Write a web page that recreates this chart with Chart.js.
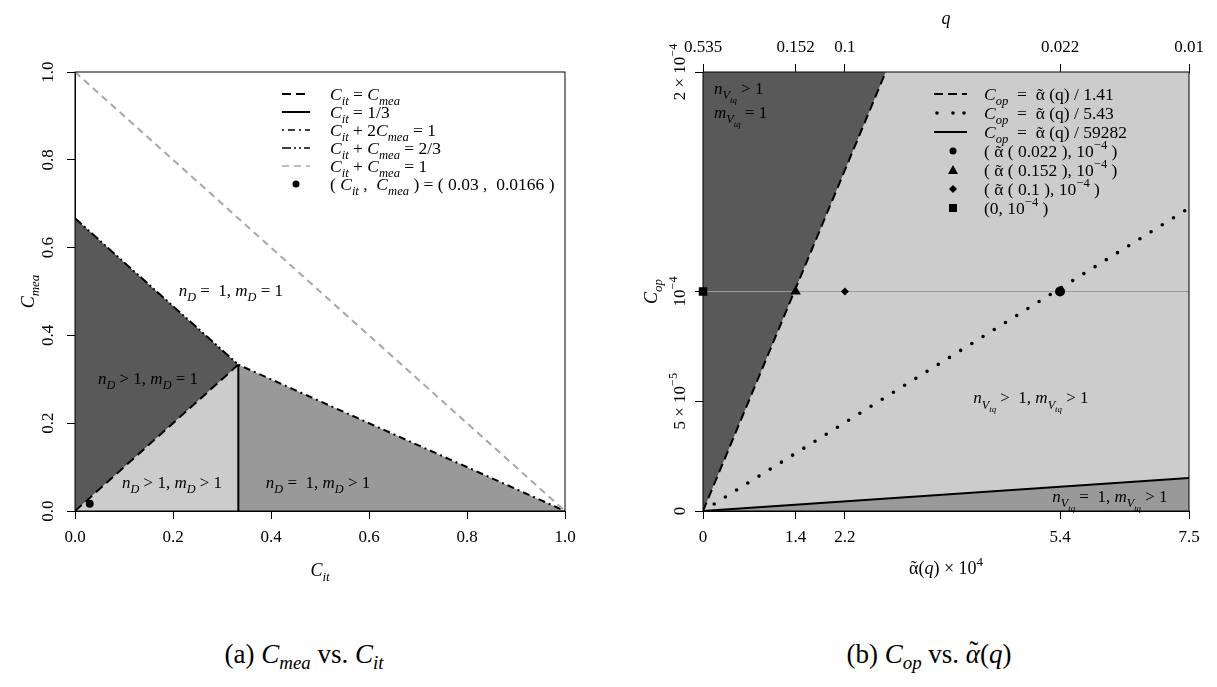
<!DOCTYPE html>
<html>
<head>
<meta charset="utf-8">
<script src="https://cdn.jsdelivr.net/npm/chart.js@4.4.0/dist/chart.umd.min.js"></script>
<style>
    body { margin: 0; background: #fff; width: 1217px; height: 687px; position: relative; overflow: hidden; }
    canvas { position: absolute; top: 0; }
    #chartA { left: 0; }
    #chartB { left: 610px; }
    .cap { position: absolute; top: 639px; font-family: 'Liberation Serif', serif; font-size: 27px;
           transform: translateX(-50%); white-space: nowrap; color: #000; }
    .cap sub { font-size: 70%; vertical-align: -0.3em; }
    .acc { position: relative; display: inline-block; }
    .acc span { position: absolute; left: 0.05em; right: 0; text-align: center; top: -0.12em; font-style: normal; }
</style>
</head>
<body>
<canvas id="chartA" width="610" height="600"></canvas>
<canvas id="chartB" width="607" height="600"></canvas>
<div class="cap" style="left:304px">(a) <i>C</i><sub><i>mea</i></sub> vs. <i>C</i><sub><i>it</i></sub></div>
<div class="cap" style="left:929px">(b) <i>C</i><sub><i>op</i></sub> vs. <span class="acc"><i>&alpha;</i><span>&#732;</span></span>(<i>q</i>)</div>

<script>
    var SERIF = "'Liberation Serif', 'Times New Roman', serif";

    // ---- (a) C_mea vs C_it ----
    var ticksA = [0, 0.2, 0.4, 0.6, 0.8, 1.0];
    var lineEqual = [{x: 0, y: 0}, {x: 1/3, y: 1/3}];          // C_it = C_mea
    var lineThird = [{x: 1/3, y: 0}, {x: 1/3, y: 1/3}];        // C_it = 1/3
    var lineTwoMea = [{x: 1/3, y: 1/3}, {x: 1, y: 0}];         // C_it + 2 C_mea = 1
    var lineTwoThirds = [{x: 0, y: 2/3}, {x: 1/3, y: 1/3}];    // C_it + C_mea = 2/3
    var lineOne = [{x: 0, y: 1}, {x: 1, y: 0}];                // C_it + C_mea = 1
    var pointA = [{x: 0.03, y: 0.0166}];
    var legendA = [
        "C_{it} = C_{mea}",
        "C_{it} = 1/3",
        "C_{it} + 2C_{mea} = 1",
        "C_{it} + C_{mea} = 2/3",
        "C_{it} + C_{mea} = 1",
        "( C_{it} ,  C_{mea} ) = ( 0.03 ,  0.0166 )"
    ];

    // ---- (b) C_op vs alpha(q) ----
    var alphaTicks = [0, 1.43, 2.19, 5.51, 7.5];
    var alphaLabels = ['0', '1.4', '2.2', '5.4', '7.5'];
    var qLabels = ['0.535', '0.152', '0.1', '0.022', '0.01'];
    var copTicks = [0, 0.5e-4, 1e-4, 2e-4];
    var copLabels = ['0', '5 \u00d7 10^{\u22125}', '10^{\u22124}', '2 \u00d7 10^{\u22124}'];
    var lineDiv141 = [{x: 0, y: 0}, {x: 2.82, y: 2e-4}];
    var lineDiv543 = [{x: 0, y: 0}, {x: 7.5, y: 1.38e-4}];
    var lineDiv59282 = [{x: 0, y: 0}, {x: 7.5, y: 0.15e-4}];
    var refLine = [{x: 0, y: 1e-4}, {x: 7.5, y: 1e-4}];
    var ptCircle = [{x: 5.51, y: 1e-4}];
    var ptTriangle = [{x: 1.43, y: 1e-4}];
    var ptDiamond = [{x: 2.19, y: 1e-4}];
    var ptSquare = [{x: 0, y: 1e-4}];
    var legendB = [
        "C_{op}  =  \u03b1\u0303 ('q') / 1.41",
        "C_{op}  =  \u03b1\u0303 ('q') / 5.43",
        "C_{op}  =  \u03b1\u0303 ('q') / 59282",
        "( \u03b1\u0303 ( 0.022 ), 10^{\u22124} )",
        "( \u03b1\u0303 ( 0.152 ), 10^{\u22124} )",
        "( \u03b1\u0303 ( 0.1 ), 10^{\u22124} )",
        "(0, 10^{\u22124} )"
    ];

    var DASH = [9, 5];
    var DOTDASH = [2, 4, 7, 4];
    var TWODASH = [9, 3, 2, 3, 2, 3];
    var DARK = '#595959', MID = '#999999', LIGHT = '#cccccc';

    Chart.defaults.font.family = SERIF;
    Chart.defaults.color = '#000';

    // little plotmath: _{..} sub, ^{..} sup, '..' upright, latin letters italic, U+0303 = tilde accent
    function richParts(s, size) {
        var parts = [], stack = [], upright = false;
        for (var i = 0; i < s.length; i++) {
            var c = s[i];
            if ((c == '_' || c == '^') && s[i + 1] == '{') { stack.push(c); i++; continue; }
            if (c == '}' && stack.length) { stack.pop(); continue; }
            if (c == "'") { upright = !upright; continue; }
            var sz = size, dy = 0;
            for (var k = 0; k < stack.length; k++) {
                dy += (stack[k] == '_' ? 0.3 : -0.45) * sz;
                sz *= 0.72;
            }
            var last = parts[parts.length - 1];
            if (c == '\u0303') {
                if (last.t.length > 1) {
                    var ch = last.t.slice(-1);
                    last.t = last.t.slice(0, -1);
                    parts.push({t: ch, sz: last.sz, dy: last.dy, it: last.it, solo: true});
                } else last.solo = true;
                parts.push({t: '\u02dc', sz: sz, dy: dy, it: false, accent: true});
                continue;
            }
            var it = !upright && /[A-Za-z]/.test(c);
            if (last && !last.solo && !last.accent && last.sz == sz && last.dy == dy && last.it == it) last.t += c;
            else parts.push({t: c, sz: sz, dy: dy, it: it});
        }
        return parts;
    }

    function drawRich(ctx, s, x, y, size, align, rot) {
        var parts = richParts(s, size), w = 0;
        parts.forEach(function (p) {
            ctx.font = (p.it ? 'italic ' : '') + p.sz + 'px ' + SERIF;
            p.w = p.accent ? 0 : ctx.measureText(p.t).width;
            w += p.w;
        });
        ctx.save();
        ctx.translate(x, y);
        if (rot) ctx.rotate(rot);
        ctx.fillStyle = '#000';
        ctx.textBaseline = 'alphabetic';
        var cx = align == 'center' ? -w / 2 : (align == 'right' ? -w : 0);
        var prev = null, prevX = 0;
        parts.forEach(function (p) {
            ctx.font = (p.it ? 'italic ' : '') + p.sz + 'px ' + SERIF;
            if (p.accent && prev) {
                ctx.textAlign = 'center';
                ctx.fillText(p.t, prevX + prev.w / 2, p.dy);
                return;
            }
            ctx.textAlign = 'left';
            ctx.fillText(p.t, cx, p.dy);
            prev = p; prevX = cx;
            cx += p.w;
        });
        ctx.restore();
    }

    function seg(ctx, x1, y1, x2, y2, dash, width, color) {
        ctx.save();
        ctx.beginPath();
        ctx.setLineDash(dash);
        ctx.lineWidth = width;
        ctx.strokeStyle = color;
        ctx.moveTo(x1, y1);
        ctx.lineTo(x2, y2);
        ctx.stroke();
        ctx.restore();
    }

    function fixedTicks(list) {
        return function (s) { s.ticks = list.map(function (v) { return {value: v}; }); };
    }

    function axis(min, max, list, extra) {
        var a = {
            type: 'linear', min: min, max: max,
            afterBuildTicks: fixedTicks(list),
            ticks: {autoSkip: false, maxRotation: 0, color: '#000', font: {size: 17}, padding: 7},
            grid: {drawOnChartArea: false, color: '#000', tickLength: 8, lineWidth: 1},
            border: {display: true, color: '#000', width: 1}
        };
        for (var k in extra) a[k] = extra[k];
        return a;
    }

    function polygon(pts, color) {
        return {data: pts, showLine: true, fill: 'shape', backgroundColor: color, borderWidth: 0,
                pointRadius: 0, order: 10};
    }

    function line(pts, dash, width, color, order) {
        return {data: pts, showLine: true, fill: false, borderColor: color, borderWidth: width,
                borderDash: dash, pointRadius: 0, order: order || 5};
    }

    function marker(pts, style, r) {
        return {data: pts, showLine: false, pointStyle: style, pointRadius: r, backgroundColor: '#000',
                borderColor: '#000', borderWidth: 0, clip: false, order: 1};
    }

    var baseOpts = {
        responsive: false, animation: false, events: [], devicePixelRatio: 1,
        plugins: {legend: {display: false}, tooltip: {enabled: false}}
    };

    // ---------- chart (a) ----------
    var textA = {
        id: 'textA',
        afterDraw: function (chart) {
            var ctx = chart.ctx, a = chart.chartArea, sx = chart.scales.x, sy = chart.scales.y;
            ctx.save();
            ctx.strokeStyle = '#000';
            ctx.lineWidth = 1;
            ctx.strokeRect(a.left, a.top, a.right - a.left, a.bottom - a.top);
            ctx.restore();

            ticksA.forEach(function (v) {
                drawRich(ctx, v.toFixed(1), a.left - 22, sy.getPixelForValue(v), 17, 'center', -Math.PI / 2);
            });
            drawRich(ctx, 'C_{mea}', 34, (a.top + a.bottom) / 2, 18, 'center', -Math.PI / 2);
            drawRich(ctx, 'C_{it}', (a.left + a.right) / 2, 576, 18, 'center');

            drawRich(ctx, 'n_{D} =  1, m_{D} = 1', sx.getPixelForValue(0.318), sy.getPixelForValue(0.49), 17, 'center');
            drawRich(ctx, 'n_{D} > 1, m_{D} = 1', sx.getPixelForValue(0.149), sy.getPixelForValue(0.29), 17, 'center');
            drawRich(ctx, 'n_{D} > 1, m_{D} > 1', sx.getPixelForValue(0.198), sy.getPixelForValue(0.052), 17, 'center');
            drawRich(ctx, 'n_{D} =  1, m_{D} > 1', sx.getPixelForValue(0.496), sy.getPixelForValue(0.052), 17, 'center');

            // legend
            var x0 = 282, x1 = 310, tx = 330, y0 = 94, dy = 18;
            var styles = [[DASH, 2, '#000'], [[], 2, '#000'], [DOTDASH, 1.6, '#000'], [TWODASH, 1.6, '#000'], [[7, 5], 1.6, '#a6a6a6']];
            legendA.forEach(function (t, i) {
                var y = y0 + i * dy;
                if (i < styles.length) seg(ctx, x0, y, x1, y, styles[i][0], styles[i][1], styles[i][2]);
                else {
                    ctx.beginPath();
                    ctx.arc((x0 + x1) / 2, y, 3.5, 0, Math.PI * 2);
                    ctx.fillStyle = '#000';
                    ctx.fill();
                }
                drawRich(ctx, t, tx, y + 6, 17.5, 'left');
            });
        }
    };

    new Chart(document.getElementById('chartA'), {
        type: 'scatter',
        data: {
            datasets: [
                polygon([lineTwoThirds[0], lineEqual[1], lineEqual[0]], DARK),
                polygon([lineEqual[0], lineEqual[1], lineThird[0]], LIGHT),
                polygon([lineThird[0], lineTwoMea[0], lineTwoMea[1]], MID),
                line(lineOne, [7, 5], 2, '#a6a6a6'),
                line(lineEqual, DASH, 2, '#000'),
                line(lineThird, [], 2, '#000'),
                line(lineTwoMea, DOTDASH, 2, '#000'),
                line(lineTwoThirds, TWODASH, 2, '#000'),
                marker(pointA, 'circle', 4)
            ]
        },
        options: Object.assign({}, baseOpts, {
            layout: {padding: {top: 72, right: 45, left: 0, bottom: 0}},
            scales: {
                x: axis(0, 1, ticksA, {
                    afterFit: function (s) { s.height = 89; },
                    ticks: {autoSkip: false, maxRotation: 0, color: '#000', font: {size: 17}, padding: 8,
                            callback: function (v) { return v.toFixed(1); }}
                }),
                y: axis(0, 1, ticksA, {
                    afterFit: function (s) { s.width = 75; },
                    ticks: {display: false}
                })
            }
        }),
        plugins: [textA]
    });

    // ---------- chart (b) ----------
    var textB = {
        id: 'textB',
        beforeDatasetsDraw: function (chart) {
            var ctx = chart.ctx, a = chart.chartArea;
            ctx.save();
            ctx.fillStyle = LIGHT;
            ctx.fillRect(a.left, a.top, a.right - a.left, a.bottom - a.top);
            ctx.restore();
        },
        afterDraw: function (chart) {
            var ctx = chart.ctx, a = chart.chartArea, sx = chart.scales.x, sy = chart.scales.y;
            ctx.save();
            ctx.strokeStyle = '#000';
            ctx.lineWidth = 1;
            ctx.strokeRect(a.left, a.top, a.right - a.left, a.bottom - a.top);
            ctx.restore();

            copTicks.forEach(function (v, i) {
                drawRich(ctx, copLabels[i], a.left - 18, sy.getPixelForValue(v), 17, 'center', -Math.PI / 2);
            });
            drawRich(ctx, 'C_{op}', 47, (a.top + a.bottom) / 2, 18, 'center', -Math.PI / 2);
            drawRich(ctx, "\u03b1\u0303(q) \u00d7 10^{4}", 336, 574, 18, 'center');
            drawRich(ctx, 'q', 336, 24, 18, 'center');

            drawRich(ctx, 'n_{V_{tq}} > 1', sx.getPixelForValue(0.17), sy.getPixelForValue(1.9e-4), 17, 'left');
            drawRich(ctx, 'm_{V_{tq}} = 1', sx.getPixelForValue(0.17), sy.getPixelForValue(1.79e-4), 17, 'left');
            drawRich(ctx, 'n_{V_{tq}} >  1, m_{V_{tq}} > 1', sx.getPixelForValue(5.06), sy.getPixelForValue(0.49e-4), 17, 'center');
            drawRich(ctx, 'n_{V_{tq}} =  1, m_{V_{tq}} > 1', sx.getPixelForValue(6.28), sy.getPixelForValue(0.04e-4), 17, 'center');

            // legend
            var x0 = 324, x1 = 357, mx = 343, tx = 374, y0 = 94, dy = 19;
            legendB.forEach(function (t, i) {
                var y = y0 + i * dy;
                ctx.save();
                ctx.fillStyle = '#000';
                if (i == 0) seg(ctx, x0, y, x1, y, DASH, 2, '#000');
                if (i == 1) [x0 + 3, mx, x1 - 3].forEach(function (px) {
                    ctx.beginPath(); ctx.arc(px, y, 1.8, 0, Math.PI * 2); ctx.fill();
                });
                if (i == 2) seg(ctx, x0, y, x1, y, [], 2, '#000');
                if (i == 3) { ctx.beginPath(); ctx.arc(mx, y, 3.5, 0, Math.PI * 2); ctx.fill(); }
                if (i == 4) { ctx.beginPath(); ctx.moveTo(mx, y - 5); ctx.lineTo(mx + 5, y + 4); ctx.lineTo(mx - 5, y + 4); ctx.fill(); }
                if (i == 5) { ctx.beginPath(); ctx.moveTo(mx, y - 4); ctx.lineTo(mx + 4, y); ctx.lineTo(mx, y + 4); ctx.lineTo(mx - 4, y); ctx.fill(); }
                if (i == 6) ctx.fillRect(mx - 4, y - 4, 8, 8);
                ctx.restore();
                drawRich(ctx, t, tx, y + 6, 17.5, 'left');
            });
        }
    };

    new Chart(document.getElementById('chartB'), {
        type: 'scatter',
        data: {
            datasets: [
                polygon([lineDiv141[0], {x: 0, y: 2e-4}, lineDiv141[1]], DARK),
                polygon([lineDiv59282[0], lineDiv59282[1], {x: 7.5, y: 0}], MID),
                line(refLine, [], 1, '#9a9a9a', 6),
                line(lineDiv141, DASH, 2, '#000'),
                Object.assign(line(lineDiv543, [0, 13.2], 3.6, '#000'), {borderCapStyle: 'round'}),
                line(lineDiv59282, [], 2, '#000'),
                marker(ptCircle, 'circle', 5),
                marker(ptTriangle, 'triangle', 6),
                marker(ptDiamond, 'rectRot', 4),
                marker(ptSquare, 'rect', 6)
            ]
        },
        options: Object.assign({}, baseOpts, {
            layout: {padding: {top: 0, right: 28, left: 0, bottom: 0}},
            scales: {
                x: axis(0, 7.5, alphaTicks, {
                    afterFit: function (s) { s.height = 89; },
                    ticks: {autoSkip: false, maxRotation: 0, color: '#000', font: {size: 17}, padding: 8,
                            callback: function (v, i) { return alphaLabels[i]; }}
                }),
                x2: axis(0, 7.5, alphaTicks, {
                    axis: 'x', position: 'top',
                    afterFit: function (s) { s.height = 72; },
                    ticks: {autoSkip: false, maxRotation: 0, color: '#000', font: {size: 17}, padding: 6,
                            callback: function (v, i) { return qLabels[i]; }}
                }),
                y: axis(0, 2e-4, copTicks, {
                    afterFit: function (s) { s.width = 93; },
                    ticks: {display: false}
                })
            }
        }),
        plugins: [textB]
    });
</script>
</body>
</html>
